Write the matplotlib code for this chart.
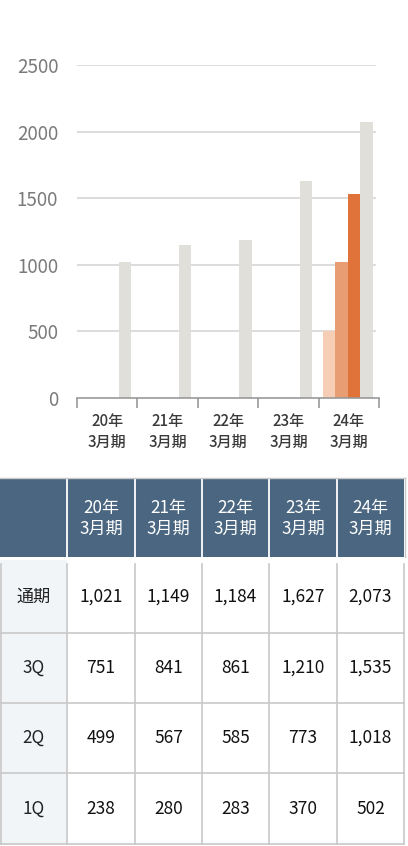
import matplotlib
matplotlib.use("Agg")
import matplotlib.pyplot as plt
from matplotlib.patches import Rectangle

plt.rcParams["font.family"] = ["Noto Sans CJK JP", "DejaVu Sans"]

# ---- data -------------------------------------------------------------
years = ["20年\n3月期", "21年\n3月期", "22年\n3月期", "23年\n3月期", "24年\n3月期"]
full_year = [1021, 1149, 1184, 1627, 2073]
q3 = [751, 841, 861, 1210, 1535]
q2 = [499, 567, 585, 773, 1018]
q1 = [238, 280, 283, 370, 502]
row_labels = ["通期", "3Q", "2Q", "1Q"]
yticks = [0, 500, 1000, 1500, 2000, 2500]

W, H = 408, 846
fig = plt.figure(figsize=(W / 100, H / 100), dpi=100)


def fx(px):
    return px / W


def fy(py):
    return 1 - py / H


# ---- bar chart --------------------------------------------------------
ax = fig.add_axes([fx(77), fy(398), fx(379) - fx(77), fy(65) - fy(398)])
ax.set_xlim(-0.5, len(years) - 0.5)
ax.set_ylim(0, 2500)

bw = 0.205
off_full = 0.29
grey = "#E0DFDA"
q_colors = ["#F6CDB5", "#E99D73", "#E0733A"]

for y in yticks[1:]:
    ax.axhline(y, xmin=0, xmax=0.987, color="#D9D9D9", lw=1.3, zorder=0)

xs = list(range(len(years)))
ax.bar([x + off_full for x in xs], full_year, width=bw, color=grey,
       linewidth=0, zorder=2)

# cumulative quarterly progress, drawn for the latest fiscal year
last = len(years) - 1
for k, series in enumerate([q1, q2, q3]):
    ax.bar(last + off_full - bw * (3 - k), series[last], width=bw,
           color=q_colors[k], linewidth=0, zorder=2)

for s in ["top", "right", "left"]:
    ax.spines[s].set_visible(False)
ax.spines["bottom"].set_color("#999999")
ax.spines["bottom"].set_linewidth(1.2)

ax.set_yticks(yticks)
ax.set_yticklabels([str(v) for v in yticks])
ax.tick_params(axis="y", length=0, pad=13.5, labelsize=13.5, labelcolor="#7A7A7A")

ax.set_xticks(xs)
ax.set_xticklabels(years, linespacing=1.35)
ax.set_xticks([x - 0.5 for x in range(len(years) + 1)], minor=True)
ax.tick_params(axis="x", which="major", length=0, pad=10.5, labelsize=10.8,
               labelcolor="#3A3A3A")
ax.tick_params(axis="x", which="minor", length=7, width=1.2, color="#999999",
               direction="out")
for t in ax.get_xticklabels():
    t.set_fontweight("medium")

# ---- data table -------------------------------------------------------
tab = fig.add_axes([0, 0, 1, 1])
tab.set_xlim(0, W)
tab.set_ylim(H, 0)
tab.axis("off")

col_edges = [0, 67, 135, 202, 269, 337, 404]
head_top, head_bot = 478, 557
row_edges = [560, 633, 703, 773, 844]
border = "#C8C8C8"
header_bg = "#4A6680"
label_bg = "#F2F5F8"

# header band
tab.add_patch(Rectangle((0, head_top), col_edges[-1], head_bot - head_top,
                        facecolor=header_bg, edgecolor="none"))
for xe in col_edges[1:-1]:
    tab.plot([xe, xe], [head_top, head_bot], color="white", lw=1.3)
tab.plot([0, col_edges[-1] + 0.5], [head_top, head_top], color=border, lw=1.0)
tab.plot([col_edges[-1] + 0.5] * 2, [head_top, head_bot], color=border, lw=1.0)

for j, lab in enumerate(years):
    cx = (col_edges[j + 1] + col_edges[j + 2]) / 2
    tab.text(cx, (head_top + head_bot) / 2 + 1, lab, ha="center", va="center",
             color="white", fontsize=12.3, linespacing=1.22)

# body
tab.add_patch(Rectangle((0, row_edges[0]), col_edges[1],
                        row_edges[-1] - row_edges[0],
                        facecolor=label_bg, edgecolor="none"))
for ye in row_edges[1:]:
    tab.plot([0, col_edges[-1]], [ye, ye], color=border, lw=1.2)
for xe in col_edges:
    xl = xe + 0.6 if xe == 0 else xe
    tab.plot([xl, xl], [row_edges[0] + 4, row_edges[-1]], color=border, lw=1.2)

rows = [full_year, q3, q2, q1]
for i, (lab, vals) in enumerate(zip(row_labels, rows)):
    cy = (row_edges[i] + row_edges[i + 1]) / 2
    tab.text(col_edges[1] / 2, cy, lab, ha="center", va="center",
             color="#222222", fontsize=12.3)
    for j, v in enumerate(vals):
        cx = (col_edges[j + 1] + col_edges[j + 2]) / 2
        tab.text(cx, cy, f"{v:,}", ha="center", va="center",
                 color="#111111", fontsize=12.5)

fig.savefig("out.png", dpi=100, facecolor="white")
